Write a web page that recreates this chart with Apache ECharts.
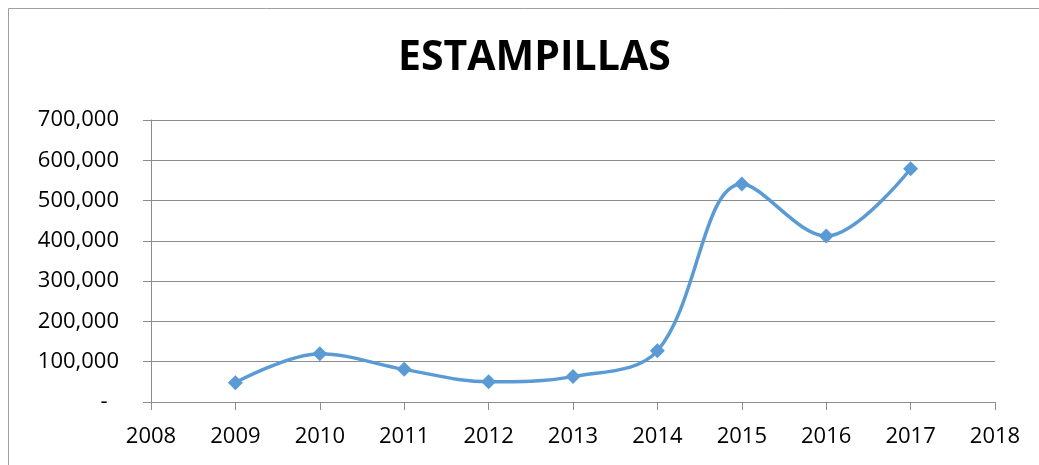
<!DOCTYPE html>
<html><head><meta charset="utf-8">
<script src="https://cdn.jsdelivr.net/npm/echarts@6/dist/echarts.min.js"></script>
<style>html,body{margin:0;padding:0;background:#fff}#c{width:1039px;height:465px}</style>
</head><body><div id="c"></div>
<script>
const title = "ESTAMPILLAS";
const years = [2009, 2010, 2011, 2012, 2013, 2014, 2015, 2016, 2017];
const values = [48000, 120000, 81000, 50000, 63000, 127000, 541000, 412000, 579000];
const xMin = 2008, xMax = 2018;
const yMin = 0, yMax = 700000, yStep = 100000;

const font = "'Open Sans', 'Liberation Sans', sans-serif";
const chart = echarts.init(document.getElementById('c'));
chart.setOption({
  animation: false,
  backgroundColor: '#fff',
  title: {
    text: title, left: 393, top: 33,
    textStyle: {fontFamily: font, fontSize: 41, fontWeight: 'bold', color: '#000'}
  },
  graphic: [{type: 'rect', shape: {x: 8.5, y: 8.5, width: 1100, height: 500},
    style: {fill: 'none', stroke: '#a0a0a0', lineWidth: 1}, silent: true}],
  grid: {left: 151, right: 44, top: 120, bottom: 63},
  xAxis: {
    type: 'value', min: xMin, max: xMax, interval: 1,
    axisLine: {lineStyle: {color: '#8c8c8c'}},
    axisTick: {show: true, length: 8, lineStyle: {color: '#8c8c8c'}},
    splitLine: {show: false},
    axisLabel: {color: '#000', fontSize: 22, fontFamily: font, margin: 24, formatter: v => String(v)}
  },
  yAxis: {
    type: 'value', min: yMin, max: yMax, interval: yStep,
    axisLine: {show: true, lineStyle: {color: '#8c8c8c'}},
    axisTick: {show: true, length: 8, lineStyle: {color: '#8c8c8c'}},
    splitLine: {lineStyle: {color: '#8c8c8c'}},
    axisLabel: {color: '#000', fontSize: 22, fontFamily: font, margin: 32,
      formatter: v => v === 0 ? '-  ' : v.toLocaleString('en-US')}
  },
  series: [{
    type: 'line', smooth: 0.35,
    data: years.map((y, i) => [y, values[i]]),
    symbol: 'diamond', symbolSize: 15,
    lineStyle: {color: '#5B9BD5', width: 3.5},
    itemStyle: {color: '#5B9BD5'}
  }]
});
</script></body></html>
